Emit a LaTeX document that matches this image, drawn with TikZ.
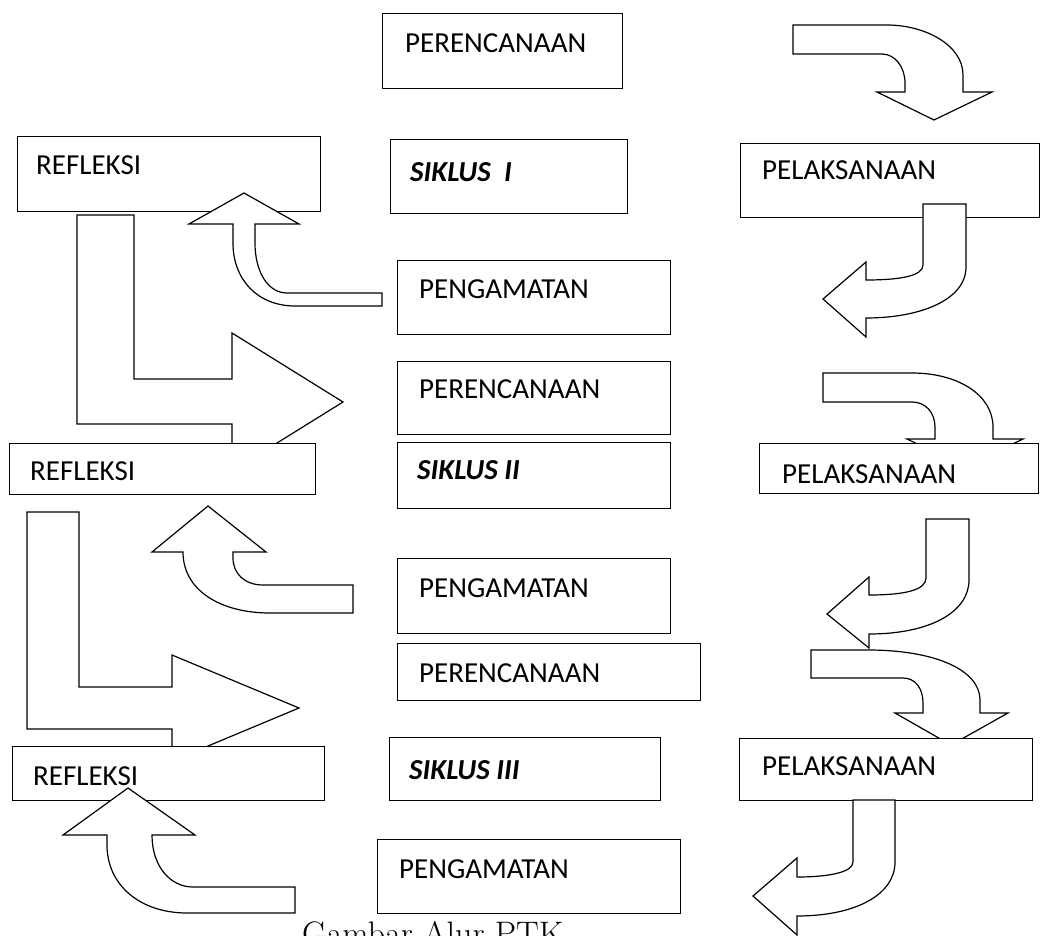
\documentclass[tikz,border=0pt]{standalone}
\usepackage{fontspec}
\newfontfamily\boxfont{Carlito}
\usetikzlibrary{calc}
\tikzset{
  box/.style={draw=black, fill=white, line width=1.2pt, inner sep=0pt, anchor=north west},
  lbl/.style={font=\boxfont\fontsize{29}{34}\selectfont, anchor=base west, inner sep=0pt},
  blk/.style={draw=black, fill=white, line width=1.2pt, line join=miter}
}
\begin{document}
\begin{tikzpicture}[x=1pt,y=-1pt]
\path[use as bounding box, clip] (0,0) rectangle (1041,936);
\fill[white] (0,0) rectangle (1041,936);

% arrows lying under boxes
\draw[blk] (823,373) -- (912,373) .. controls (958,373) and (993,395) .. (993,427) -- (993,439) -- (1023,439) -- (965,467) -- (907,439) -- (935,439) -- (935,427) .. controls (935,413) and (926,402) .. (912,402) -- (823,402) -- cycle;
\draw[blk] (926,519) -- (969,519) -- (969,580) .. controls (969,612) and (930,634) .. (869,634) -- (869,648) -- (827,614) -- (869,577) -- (869,595) .. controls (905,595) and (926,590) .. (926,578) -- cycle;
\draw[blk] (811,650) -- (868,650) .. controls (935,650) and (980,670) .. (980,700) -- (980,713) -- (1008,713) -- (951,745) -- (895,713) -- (923,713) -- (923,703) .. controls (923,688) and (915,678) .. (903,678) -- (811,678) -- cycle;
\draw[blk] (77,215) -- (134,215) -- (134,379) -- (232,379) -- (232,333) -- (343,402) -- (232,471) -- (232,424) -- (77,424) -- cycle;
\draw[blk] (27,512) -- (79,512) -- (79,687) -- (172,687) -- (172,655) -- (299,708) -- (172,761) -- (172,729) -- (27,729) -- cycle;

% boxes
\node[box, minimum width=240pt, minimum height=75pt] (p1) at (382,13) {};
\node[box, minimum width=303pt, minimum height=75pt] (r1) at (17,136) {};
\node[box, minimum width=237pt, minimum height=74pt] (s1) at (390,139) {};
\node[box, minimum width=299pt, minimum height=74pt] (l1) at (740,143) {};
\node[box, minimum width=273pt, minimum height=74pt] (pg1) at (397,260) {};
\node[box, minimum width=273pt, minimum height=73pt] (p2) at (397,361) {};
\node[box, minimum width=273pt, minimum height=66pt] (s2) at (397,442) {};
\node[box, minimum width=306pt, minimum height=51pt] (r2) at (9,443) {};
\node[box, minimum width=279pt, minimum height=50pt] (l2) at (759,443) {};
\node[box, minimum width=273pt, minimum height=75pt] (pg2) at (397,558) {};
\node[box, minimum width=303pt, minimum height=57pt] (p3) at (397,643) {};
\node[box, minimum width=271pt, minimum height=63pt] (s3) at (389,737) {};
\node[box, minimum width=312pt, minimum height=54pt] (r3) at (12,746) {};
\node[box, minimum width=293pt, minimum height=62pt] (l3) at (739,738) {};
\node[box, minimum width=303pt, minimum height=74pt] (pg3) at (377,839) {};

% labels
\node[lbl] (tp1) at ($(p1.north west)+(23,40)$) {PERENCANAAN};
\node[lbl] (tr1) at ($(r1.north west)+(19,39)$) {REFLEKSI};
\node[lbl] (ts1) at ($(s1.north west)+(20,43)$) {\bfseries\itshape SIKLUS\ \ I};
\node[lbl] (tl1) at ($(l1.north west)+(22,37)$) {PELAKSANAAN};
\node[lbl] (tpg1) at ($(pg1.north west)+(22,38)$) {PENGAMATAN};
\node[lbl] (tp2) at ($(p2.north west)+(22,37)$) {PERENCANAAN};
\node[lbl] (ts2) at ($(s2.north west)+(20,37)$) {\bfseries\itshape SIKLUS II};
\node[lbl] (tr2) at ($(r2.north west)+(21,37)$) {REFLEKSI};
\node[lbl] (tl2) at ($(l2.north west)+(23,40)$) {PELAKSANAAN};
\node[lbl] (tpg2) at ($(pg2.north west)+(22,39)$) {PENGAMATAN};
\node[lbl] (tp3) at ($(p3.north west)+(22,39)$) {PERENCANAAN};
\node[lbl] (ts3) at ($(s3.north west)+(20,42)$) {\bfseries\itshape SIKLUS III};
\node[lbl] (tr3) at ($(r3.north west)+(21,39)$) {REFLEKSI};
\node[lbl] (tl3) at ($(l3.north west)+(23,37)$) {PELAKSANAAN};
\node[lbl] (tpg3) at ($(pg3.north west)+(22,39)$) {PENGAMATAN};

% arrows lying over boxes
\draw[blk] (793,25) -- (887,25) .. controls (925,25) and (963,45) .. (963,75) -- (963,92) -- (992,92) -- (934,120) -- (877,92) -- (905,92) -- (905,83) .. controls (905,67) and (895,54) .. (882,54) -- (793,54) -- cycle;
\draw[blk] (923,204) -- (966,204) -- (966,267) .. controls (966,300) and (920,318) .. (866,318) -- (866,337) -- (823,299) -- (866,262) -- (866,280) .. controls (900,280) and (923,276) .. (923,265) -- cycle;
\draw[blk] (853,800) -- (895,800) -- (895,862) .. controls (895,895) and (855,916) .. (797,916) -- (797,935) -- (753,896) -- (797,858) -- (797,877) .. controls (830,877) and (853,872) .. (853,862) -- cycle;
\draw[blk] (244,193) -- (299,224) -- (255,224) -- (255,243) .. controls (255,272) and (268,293) .. (287,293) -- (382,293) -- (382,306) -- (295,306) .. controls (258,306) and (233,280) .. (233,243) -- (233,224) -- (189,224) -- cycle;
\draw[blk] (208,506) -- (266,552) -- (233,552) -- (233,558) .. controls (233,574) and (245,585) .. (263,585) -- (353,585) -- (353,613) -- (270,613) .. controls (220,613) and (183,590) .. (183,552) -- (152,552) -- cycle;
\draw[blk] (128,788) -- (195,835) -- (152,835) .. controls (152,866) and (170,887) .. (193,887) -- (295,887) -- (295,913) -- (187,913) .. controls (140,913) and (107,885) .. (107,845) -- (107,835) -- (63,835) -- cycle;

% caption
\node[font=\fontsize{34}{40}\selectfont, anchor=base west, inner sep=0pt] (cap) at (302,945) {Gambar Alur PTK};
\end{tikzpicture}
\end{document}
